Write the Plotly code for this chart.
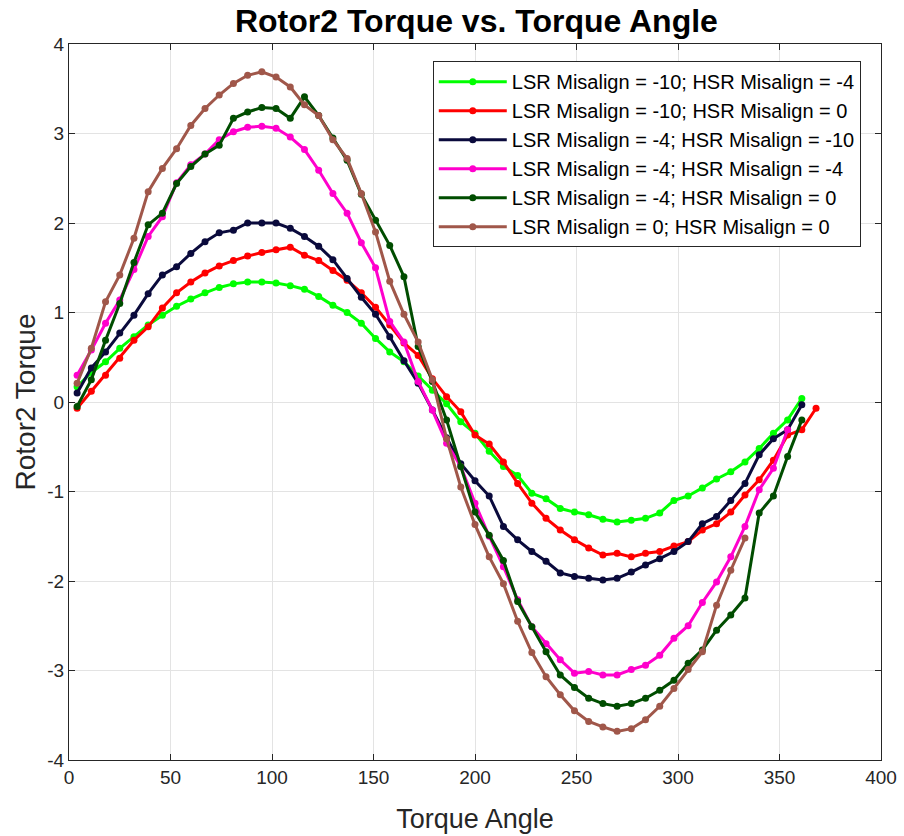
import plotly.graph_objects as go

angle = [4, 11, 18, 25, 32, 39, 46, 53, 60, 67, 74, 81, 88, 95, 102, 109, 116, 123, 130, 137,
         144, 151, 158, 165, 172, 179, 186, 193, 200, 207, 214, 221, 228, 235, 242, 249, 256,
         263, 270, 277, 284, 291, 298, 305, 312, 319, 326, 333, 340, 347, 354, 361, 368]

lime_y = [0.17, 0.33, 0.45, 0.60, 0.73, 0.86, 0.97, 1.07, 1.15, 1.22, 1.28, 1.32, 1.34, 1.34,
          1.33, 1.30, 1.26, 1.18, 1.08, 1.00, 0.88, 0.71, 0.56, 0.45, 0.29, 0.13, -0.02, -0.22,
          -0.35, -0.55, -0.72, -0.82, -1.02, -1.08, -1.19, -1.23, -1.26, -1.31, -1.34, -1.32,
          -1.30, -1.24, -1.10, -1.05, -0.96, -0.86, -0.78, -0.67, -0.52, -0.35, -0.20, 0.04]

red_y = [-0.07, 0.12, 0.30, 0.49, 0.69, 0.84, 1.05, 1.22, 1.34, 1.44, 1.52, 1.58, 1.63, 1.67,
         1.70, 1.73, 1.64, 1.58, 1.47, 1.36, 1.22, 1.06, 0.86, 0.66, 0.52, 0.26, 0.06, -0.11,
         -0.37, -0.47, -0.67, -0.91, -1.13, -1.30, -1.43, -1.54, -1.63, -1.71, -1.69, -1.73,
         -1.69, -1.67, -1.61, -1.56, -1.43, -1.36, -1.23, -1.04, -0.87, -0.65, -0.37, -0.31, -0.07]

navy_y = [0.10, 0.38, 0.56, 0.77, 0.97, 1.21, 1.42, 1.51, 1.66, 1.79, 1.89, 1.92, 2.00, 2.00,
          2.00, 1.94, 1.85, 1.74, 1.59, 1.38, 1.17, 0.98, 0.73, 0.46, 0.21, -0.09, -0.40, -0.69,
          -0.88, -1.05, -1.39, -1.54, -1.67, -1.78, -1.91, -1.95, -1.97, -1.99, -1.97, -1.90,
          -1.82, -1.75, -1.67, -1.56, -1.36, -1.28, -1.10, -0.91, -0.59, -0.41, -0.31, -0.03]

magenta_y = [0.30, 0.58, 0.88, 1.14, 1.48, 1.85, 2.07, 2.45, 2.65, 2.77, 2.93, 3.02, 3.07, 3.08,
             3.06, 2.96, 2.82, 2.59, 2.33, 2.11, 1.78, 1.50, 0.90, 0.67, 0.23, -0.09, -0.46, -0.72,
             -1.13, -1.50, -1.84, -2.21, -2.51, -2.70, -2.88, -3.03, -3.01, -3.05, -3.05, -2.99,
             -2.94, -2.83, -2.64, -2.50, -2.24, -2.01, -1.73, -1.39, -0.98, -0.74, -0.31]

dkgreen_y = [-0.05, 0.25, 0.69, 1.10, 1.56, 1.98, 2.11, 2.44, 2.63, 2.77, 2.87, 3.17, 3.24, 3.29,
             3.28, 3.17, 3.41, 3.20, 2.95, 2.70, 2.32, 2.03, 1.75, 1.40, 0.62, 0.23, -0.20, -0.72,
             -1.23, -1.49, -1.77, -2.23, -2.51, -2.79, -3.05, -3.19, -3.31, -3.37, -3.40, -3.37,
             -3.31, -3.22, -3.11, -2.92, -2.77, -2.55, -2.38, -2.19, -1.24, -1.05, -0.61, -0.20]

brown_y = [0.21, 0.60, 1.12, 1.42, 1.83, 2.35, 2.61, 2.83, 3.09, 3.28, 3.43, 3.56, 3.65, 3.69,
           3.63, 3.52, 3.32, 3.20, 2.93, 2.72, 2.33, 1.90, 1.35, 0.98, 0.67, 0.25, -0.41, -0.95,
           -1.37, -1.73, -2.03, -2.45, -2.80, -3.07, -3.27, -3.45, -3.57, -3.63, -3.68, -3.65,
           -3.55, -3.40, -3.20, -2.99, -2.79, -2.27, -1.88, -1.52]

names = [
    "LSR Misalign = -10; HSR Misalign = -4",
    "LSR Misalign = -10; HSR Misalign = 0",
    "LSR Misalign = -4; HSR Misalign = -10",
    "LSR Misalign = -4; HSR Misalign = -4",
    "LSR Misalign = -4; HSR Misalign = 0",
    "LSR Misalign = 0; HSR Misalign = 0",
]
series = [lime_y, red_y, navy_y, magenta_y, dkgreen_y, brown_y]
colors = ["#00FF00", "#FF0000", "#0A0A3C", "#FF00CC", "#004D00", "#A0574A"]

x_ticks = [0, 50, 100, 150, 200, 250, 300, 350, 400]
y_ticks = [-4, -3, -2, -1, 0, 1, 2, 3, 4]

fig = go.Figure()
for nm, ys, c in zip(names, series, colors):
    fig.add_trace(go.Scatter(
        x=angle[:len(ys)], y=ys, name=nm, mode="lines+markers",
        line=dict(color=c, width=3), marker=dict(color=c, size=7),
    ))

font_family = "Liberation Sans, Arial, sans-serif"
axis_common = dict(
    showgrid=True, gridcolor="#E3E3E3", gridwidth=1,
    showline=True, linecolor="#262626", linewidth=1, mirror="ticks",
    ticks="inside", ticklen=6, tickcolor="#262626",
    zeroline=False, tickfont=dict(size=19, color="#262626", family=font_family),
)

fig.update_layout(
    width=904, height=836,
    margin=dict(l=69, r=23, t=44, b=76),
    paper_bgcolor="white", plot_bgcolor="white",
    font=dict(family=font_family, color="#262626"),
    title=dict(text="<b>Rotor2 Torque vs. Torque Angle</b>", x=0.527, xanchor="center",
               y=0.975, yanchor="middle", font=dict(size=32, color="black", family=font_family)),
    xaxis=dict(range=[0, 400], tickvals=x_ticks, ticktext=[str(v) for v in x_ticks],
               automargin=False,
               title=dict(text="Torque Angle", font=dict(size=27, color="#262626"), standoff=22),
               **axis_common),
    yaxis=dict(range=[-4, 4], tickvals=y_ticks, ticktext=[str(v) for v in y_ticks],
               title=dict(text="Rotor2 Torque", font=dict(size=28, color="#262626"), standoff=3),
               **axis_common),
    legend=dict(x=0.448, y=0.976, xanchor="left", yanchor="top",
                bgcolor="white", bordercolor="#262626", borderwidth=1,
                font=dict(size=20, color="black", family=font_family),
                itemwidth=68),
    showlegend=True,
)

fig.write_html("out.html")
